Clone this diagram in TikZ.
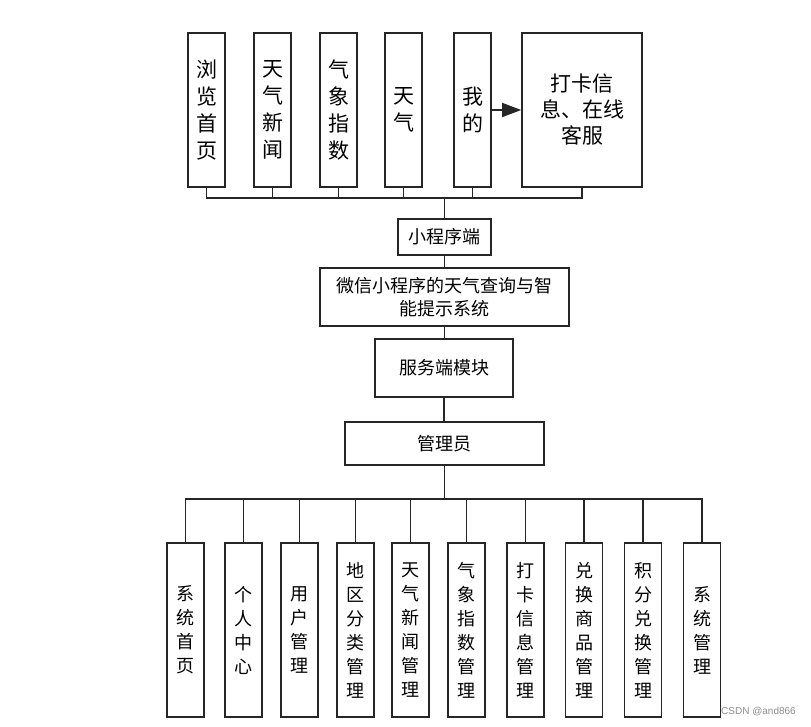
\documentclass[tikz,border=0pt]{standalone}
\usepackage{fontspec}
\setmainfont{Noto Sans CJK SC}
\newfontfamily\markfont{Liberation Sans}
\usetikzlibrary{arrows.meta}

\tikzset{
  frame/.style={draw=black!85, line width=1.6pt, fill=white, inner sep=0pt, align=center},
  tallbox/.style={frame, minimum width=37pt, minimum height=154pt,
    font=\fontsize{21}{27}\selectfont},
  lowbox/.style={frame, minimum width=37pt, minimum height=174pt,
    font=\fontsize{18}{24}\selectfont},
  midbox/.style={frame, font=\fontsize{18}{23}\selectfont},
  link/.style={draw=black!85, line width=1.6pt}
}

\begin{document}
\begin{tikzpicture}[x=1pt, y=-1pt]
\useasboundingbox (0,0) rectangle (811,726);

% Define coordinates
\coordinate (TopBus) at (444.5,198); % bus under the app pages
\coordinate (LowBus) at (444.5,499); % bus over the admin pages

% Draw app pages
\node[tallbox] (Home) at (206.5,110) {浏\\览\\首\\页};
\node[tallbox] (News) at (272.5,110) {天\\气\\新\\闻};
\node[tallbox] (Index) at (338.5,110) {气\\象\\指\\数};
\node[tallbox] (Weather) at (403.5,110) {天\\气};
\node[tallbox] (Mine) at (472.5,110) {我\\的};
\node[frame, minimum width=120pt, minimum height=154pt,
  font=\fontsize{21}{26}\selectfont] (Clock) at (582,110) {打卡信\\息、在线\\客服};

% Draw middle chain
\node[midbox, minimum width=93pt, minimum height=36pt] (App) at (444.5,237) {小程序端};
\node[midbox, minimum width=249pt, minimum height=58pt] (System) at (444.5,297) {微信小程序的天气查询与智\\能提示系统};
\node[midbox, minimum width=138pt, minimum height=58pt] (Server) at (444,368) {服务端模块};
\node[midbox, minimum width=199pt, minimum height=43pt] (Admin) at (444.5,443.5) {管理员};

% Draw admin pages
\node[lowbox] (SysHome) at (185.5,630) {系\\统\\首\\页};
\node[lowbox] (Profile) at (243.5,630) {个\\人\\中\\心};
\node[lowbox] (Users) at (299.5,630) {用\\户\\管\\理};
\node[lowbox] (Regions) at (355.5,630) {地\\区\\分\\类\\管\\理};
\node[lowbox] (NewsAdm) at (410.5,630) {天\\气\\新\\闻\\管\\理};
\node[lowbox] (IndexAdm) at (466.5,630) {气\\象\\指\\数\\管\\理};
\node[lowbox] (ClockAdm) at (525.5,630) {打\\卡\\信\\息\\管\\理};
\node[lowbox] (Goods) at (584,630) {兑\\换\\商\\品\\管\\理};
\node[lowbox] (Points) at (643,630) {积\\分\\兑\\换\\管\\理};
\node[lowbox] (SysAdm) at (702,630) {系\\统\\管\\理};

% Connect app pages to the app
\draw[link] (Home.south) |- (TopBus);
\draw[link] (News.south) |- (TopBus);
\draw[link] (Index.south) |- (TopBus);
\draw[link] (Weather.south) |- (TopBus);
\draw[link] (Mine.south) |- (TopBus);
\draw[link] (Clock.south) |- (TopBus);
\draw[link] (TopBus) -- (App.north);
\draw[link, -{Triangle[length=19pt, width=14pt]}] (Mine.east) -- (Clock.west);

% Connect the middle chain
\draw[link] (App.south) -- (System.north);
\draw[link] (System.south) -- (Server.north -| System.south);
\draw[link] (Server.south) -- (Admin.north -| Server.south);
\draw[link] (Admin.south) -- (LowBus);

% Connect admin pages
\draw[link] (SysHome.north) |- (LowBus);
\draw[link] (Profile.north) |- (LowBus);
\draw[link] (Users.north) |- (LowBus);
\draw[link] (Regions.north) |- (LowBus);
\draw[link] (NewsAdm.north) |- (LowBus);
\draw[link] (IndexAdm.north) |- (LowBus);
\draw[link] (ClockAdm.north) |- (LowBus);
\draw[link] (Goods.north) |- (LowBus);
\draw[link] (Points.north) |- (LowBus);
\draw[link] (SysAdm.north) |- (LowBus);

% Watermark
\node[text=black!45, font=\markfont\fontsize{10}{12}\selectfont, anchor=east, inner sep=0pt] (Mark) at (796,712) {CSDN @and866};

\end{tikzpicture}
\end{document}
